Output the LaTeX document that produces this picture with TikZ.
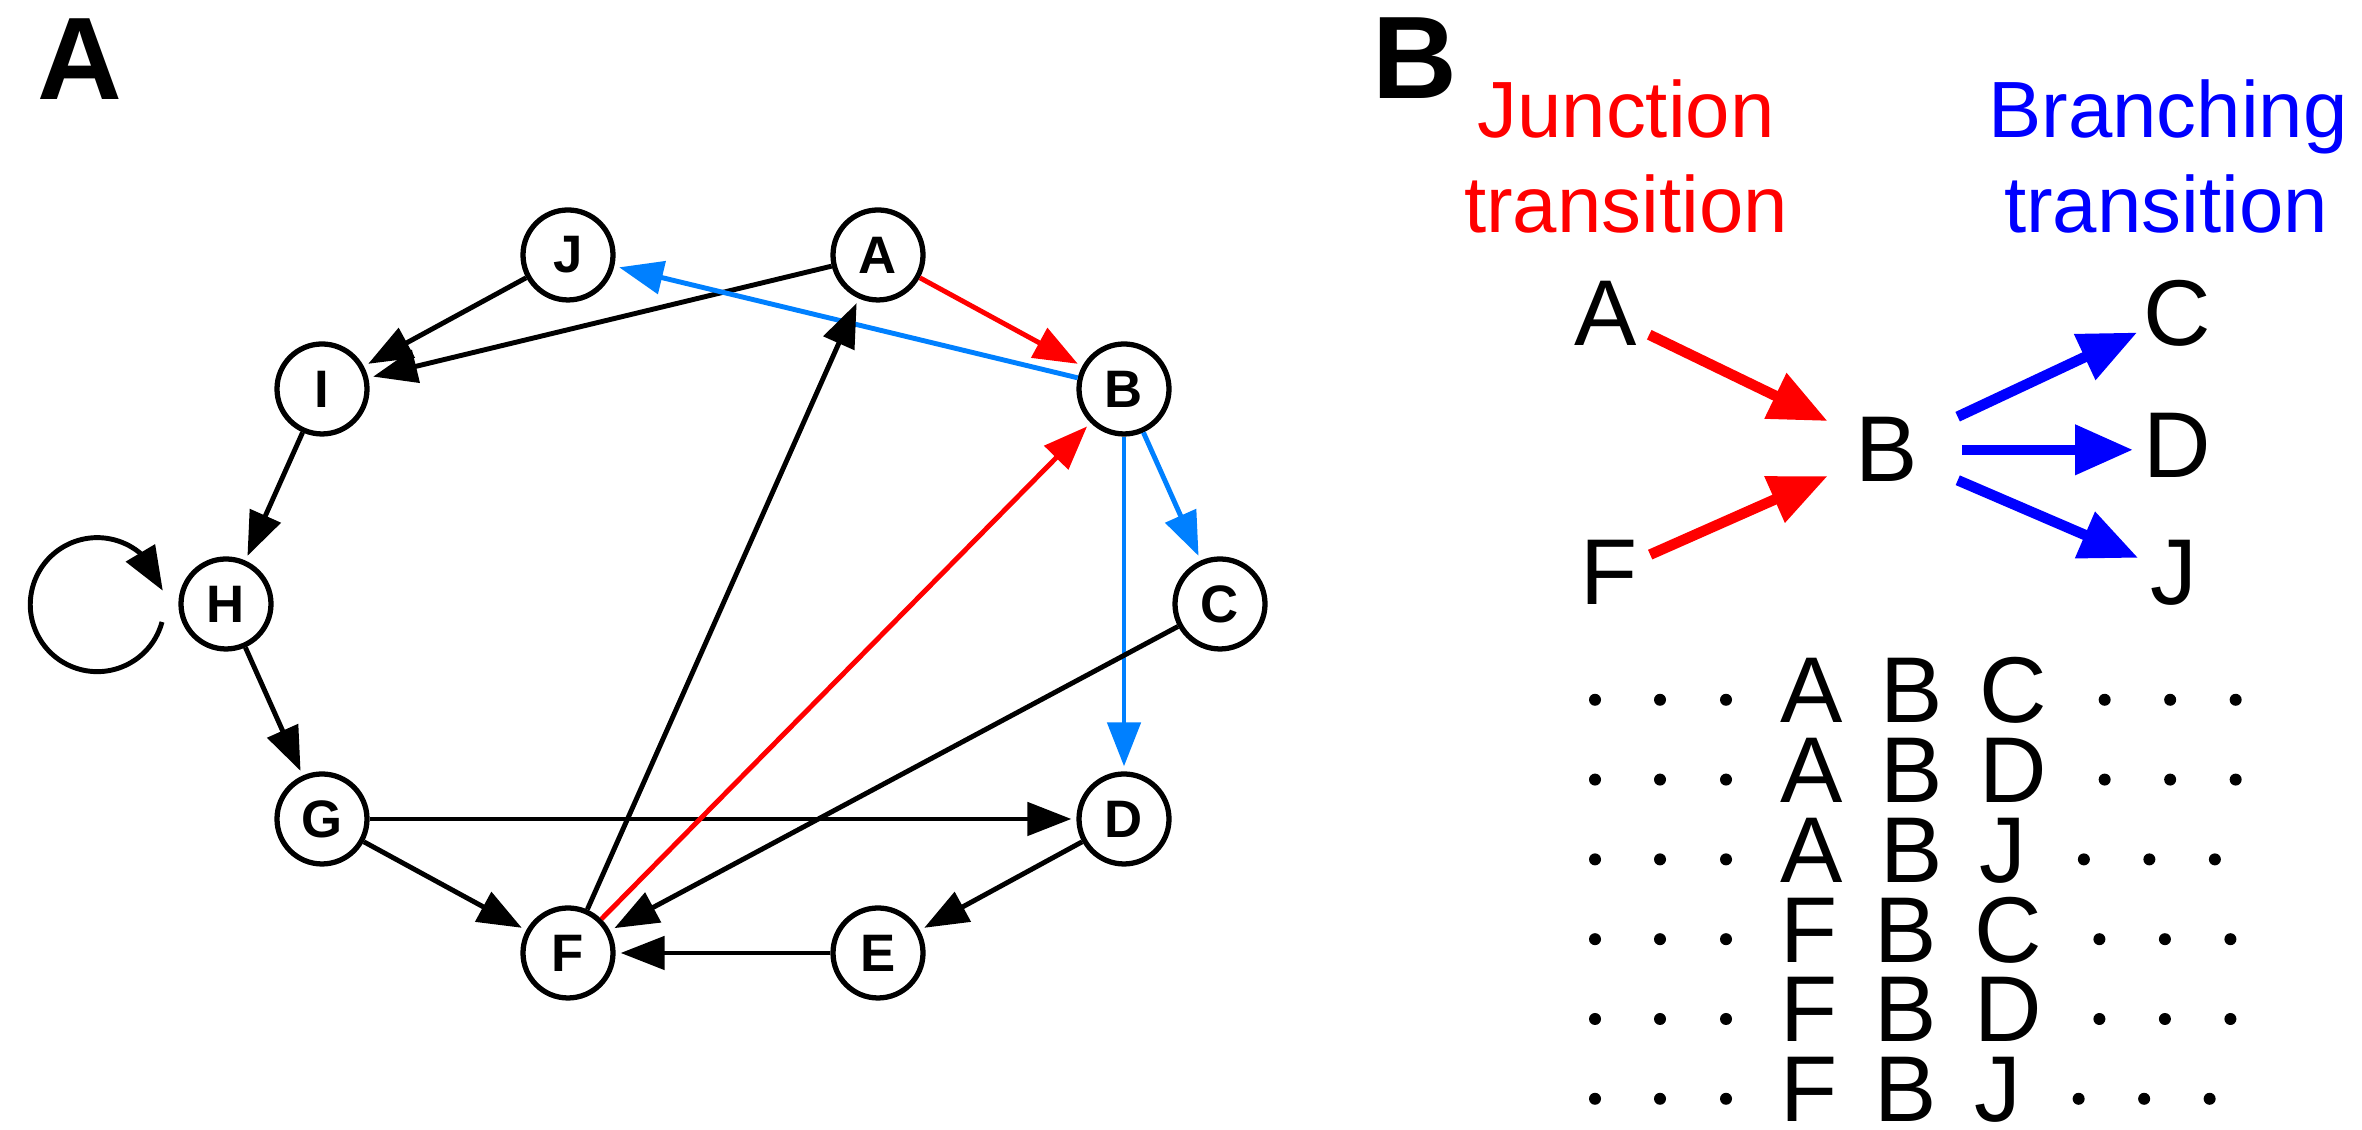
\documentclass[tikz,border=0pt]{standalone}
\usepackage{fontspec}
\setmainfont{Liberation Sans}
\usepackage{tikz}
\usetikzlibrary{arrows.meta}
\usetikzlibrary{bending}
\definecolor{lightblue}{RGB}{0,128,255}

\begin{document}
\begin{tikzpicture}[
    state/.style={circle,draw,fill=white,line width=1.5pt,minimum size=0.9cm,inner sep=0pt,font=\fontsize{15}{16}\selectfont\bfseries},
    trans/.style={line width=1.4pt,-{Triangle[length=0.44cm,width=0.33cm]}},
    big/.style={inner sep=0pt,font=\fontsize{26.6}{30}\selectfont},
    head/.style={inner sep=0pt,anchor=base,font=\fontsize{22.7}{27}\selectfont},
    panel/.style={inner sep=0pt,anchor=base west,font=\fontsize{33.4}{38}\selectfont\bfseries},
    fat/.style={line width=3pt,-{Triangle[length=0.58cm,width=0.48cm]}}
  ]
  \useasboundingbox (0,0) rectangle (23.62,11.30);
  \node[panel] (labA) at (0.37,10.30) {A};
  \node[panel] (labB) at (13.72,10.31) {B};

  \node[state] (J) at (5.68,8.75) {J};
  \node[state] (A) at (8.78,8.75) {A};
  \node[state] (I) at (3.22,7.41) {I};
  \node[state] (B) at (11.24,7.41) {B};
  \node[state] (H) at (2.26,5.26) {H};
  \node[state] (C) at (12.20,5.26) {C};
  \node[state] (G) at (3.22,3.11) {G};
  \node[state] (D) at (11.24,3.11) {D};
  \node[state] (F) at (5.68,1.77) {F};
  \node[state] (E) at (8.78,1.77) {E};

  \draw[trans,shorten >=0.05cm] (J) -- (I);
  \draw[trans,shorten >=0.05cm] (A) -- (I);
  \draw[trans,shorten >=0.05cm,red] (A) -- (B);
  \draw[trans,shorten >=0.05cm,lightblue] (B) -- (J);
  \draw[trans,shorten >=0.05cm,lightblue] (B) -- (C);
  \draw[trans,shorten >=0.05cm,lightblue] (B) -- (D);
  \draw[trans,shorten >=0.05cm] (I) -- (H);
  \draw[trans] ([shift={(-0.64,-0.18)}]H.center) arc[start angle=-15,end angle=-348,radius=0.67];
  \draw[trans,shorten >=0.05cm] (H) -- (G);
  \draw[trans,shorten >=0.05cm] (G) -- (D);
  \draw[trans,shorten >=0.05cm] (G) -- (F);
  \draw[trans,shorten >=0.05cm] (C) -- (F);
  \draw[trans,shorten >=0.05cm] (D) -- (E);
  \draw[trans,shorten >=0.05cm] (E) -- (F);
  \draw[trans,shorten >=0.05cm] (F) -- (A);
  \draw[trans,shorten >=0.05cm,red] (F) -- (B);

  \node[head,red] (junc1) at (16.26,9.92) {Junction};
  \node[head,red] (junc2) at (16.26,8.97) {transition};
  \node[head,blue] (branch1) at (21.68,9.92) {Branching};
  \node[head,blue] (branch2) at (21.66,8.97) {transition};

  \node[big,anchor=base] (pA) at (16.06,7.84) {A};
  \node[big,anchor=base] (pF) at (16.09,5.25) {F};
  \node[big,anchor=base] (pB) at (18.87,6.48) {B};
  \node[big,anchor=base] (pC) at (21.77,7.84) {C};
  \node[big,anchor=base] (pD) at (21.77,6.52) {D};
  \node[big,anchor=base] (pJ) at (21.74,5.25) {J};

  \draw[fat,red,shorten <=0.48cm,shorten >=0.66cm] (pA.center) -- (pB.center);
  \draw[fat,red,shorten <=0.45cm,shorten >=0.65cm] (pF.center) -- (pB.center);
  \draw[fat,blue,shorten <=0.78cm,shorten >=0.44cm] (pB.center) -- (pC.center);
  \draw[fat,blue,shorten <=0.75cm,shorten >=0.44cm] (pB.center) -- (pB.center -| pD.center);
  \draw[fat,blue,shorten <=0.77cm,shorten >=0.39cm] (pB.center) -- (pJ.center);

  \foreach \i/\u/\w in {1/A/C,2/A/D,3/A/J,4/F/C,5/F/D,6/F/J}{
    \pgfmathsetmacro\yb{4.87-0.798*\i}
    \foreach \x in {15.95,16.60,17.26}
      \fill (\x,\yb+0.23) circle (0.06);
    \node[big,anchor=base west] (row\i) at (17.80,\yb) {\u\hspace{3.7mm}B\hspace{3.7mm}\w};
    \foreach \k in {0,1,2}{
      \pgfmathsetmacro\dx{0.57+0.655*\k}
      \fill ([xshift=\dx cm,yshift=2.3mm]row\i.base east) circle (0.06);
    }
  }
\end{tikzpicture}
\end{document}
